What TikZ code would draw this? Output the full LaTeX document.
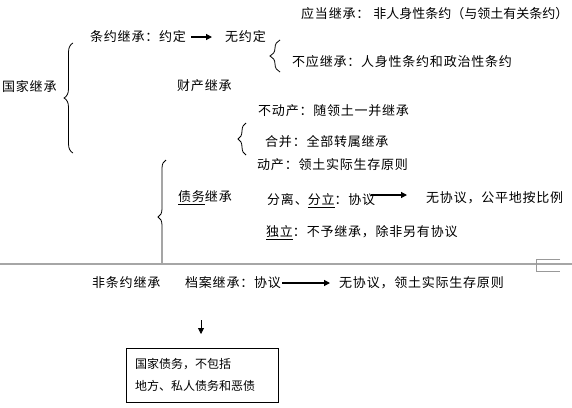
\documentclass[tikz,border=0pt]{standalone}
\usepackage{fontspec}
\setmainfont{Noto Sans CJK SC}
\newfontfamily\zhfont[LetterSpace=6]{Noto Sans CJK SC}
\newfontfamily\zhtight{Noto Sans CJK SC}
\usepackage{tikz}
\usetikzlibrary{positioning,arrows.meta,decorations.pathreplacing}
\tikzset{
  node-text/.style={anchor=west,inner sep=0pt,font=\zhfont\fontsize{13}{15}\selectfont},
  node-box/.style={draw,thin,anchor=north west,align=left,inner xsep=9pt,inner ysep=0pt,
    minimum width=152pt,minimum height=54pt,text width=134pt,
    font=\zhtight\fontsize{12}{22}\selectfont},
  arrow/.style={-{Triangle[length=6pt,width=6pt]},line width=1.2pt},
  arrow-thin/.style={-{Triangle[length=6pt,width=6pt]},line width=0.8pt},
  brace-left/.style={decorate,decoration={brace,amplitude=#1},line width=0.8pt},
  page-break/.style={draw=black!35,line width=1.5pt},
}
\begin{document}
\begin{tikzpicture}[x=1pt,y=-1pt]
  \useasboundingbox[fill=white] (0,0) rectangle (572,407);
  % 条约继承
  \node[node-text] (gjjc)  at (2,87)    {国家继承};
  \node[node-text] (ydjc)  at (301,14)  {应当继承：\hspace{4pt}{\zhtight 非人身性条约（与领土有关条约）}};
  \node[node-text] (tyjc)  at (90,37)   {条约继承：约定};
  \node[node-text] (wyd)   at (225,37)  {无约定};
  \node[node-text] (byjc)  at (292,62)  {不应继承：人身性条约和政治性条约};
  % 财产继承
  \node[node-text] (ccjc)  at (177,86)  {财产继承};
  \node[node-text] (bdc)   at (258,111) {不动产：随领土一并继承};
  \node[node-text] (hb)    at (265,142) {合并：全部转属继承};
  \node[node-text] (dc)    at (257,165) {动产：领土实际生存原则};
  % 债务继承
  \node[node-text] (zwjc)  at (178,198) {\underline{债务}继承};
  \node[node-text] (fl)    at (267,201) {分离、\underline{分立}：协议};
  \node[node-text] (wxy)   at (426,198) {无协议，公平地按比例};
  \node[node-text] (dl)    at (266,233) {\underline{独立}：不予继承，除非另有协议};
  % 非条约继承
  \node[node-text] (ftyjc) at (92,283)  {非条约继承};
  \node[node-text] (dajc)  at (185,283) {档案继承：协议};
  \node[node-text] (wxy2)  at (339,283) {无协议，领土实际生存原则};
  \node[node-box]  (gjzw)  at (126,348) {国家债务，不包括\\地方、私人债务和恶债};
  \coordinate (dn) at (201,320);

  \draw[brace-left=9pt]  (73,153)  -- (73,43);
  \draw[brace-left=10pt] (280,72)  -- (280,40);
  \draw[brace-left=8pt]  (246,155) -- (246,123);
  \begin{scope}
    \clip (0,0) rectangle (572,263);
    \draw[brace-left=8pt] (166,274) -- (166,160);
  \end{scope}

  \draw[arrow,shorten <=5pt,shorten >=13pt] (tyjc.east) -- (wyd.west);
  \draw[arrow,shorten >=19pt] ([xshift=-4pt,yshift=6pt]fl.east) -- ([yshift=6pt]fl.east -| wxy.west);
  \draw[arrow,shorten <=1pt,shorten >=9pt] (dajc.east) -- (wxy2.west);
  \draw[arrow-thin,shorten >=14pt] (dn) -- (dn |- gjzw.north);

  % 分页线
  \draw[page-break] (0,264) -- (572,264);
  \draw[draw=black!40,line width=0.8pt] (560,259) -- (536,259) -- (536,271) -- (560,271);
\end{tikzpicture}
\end{document}
